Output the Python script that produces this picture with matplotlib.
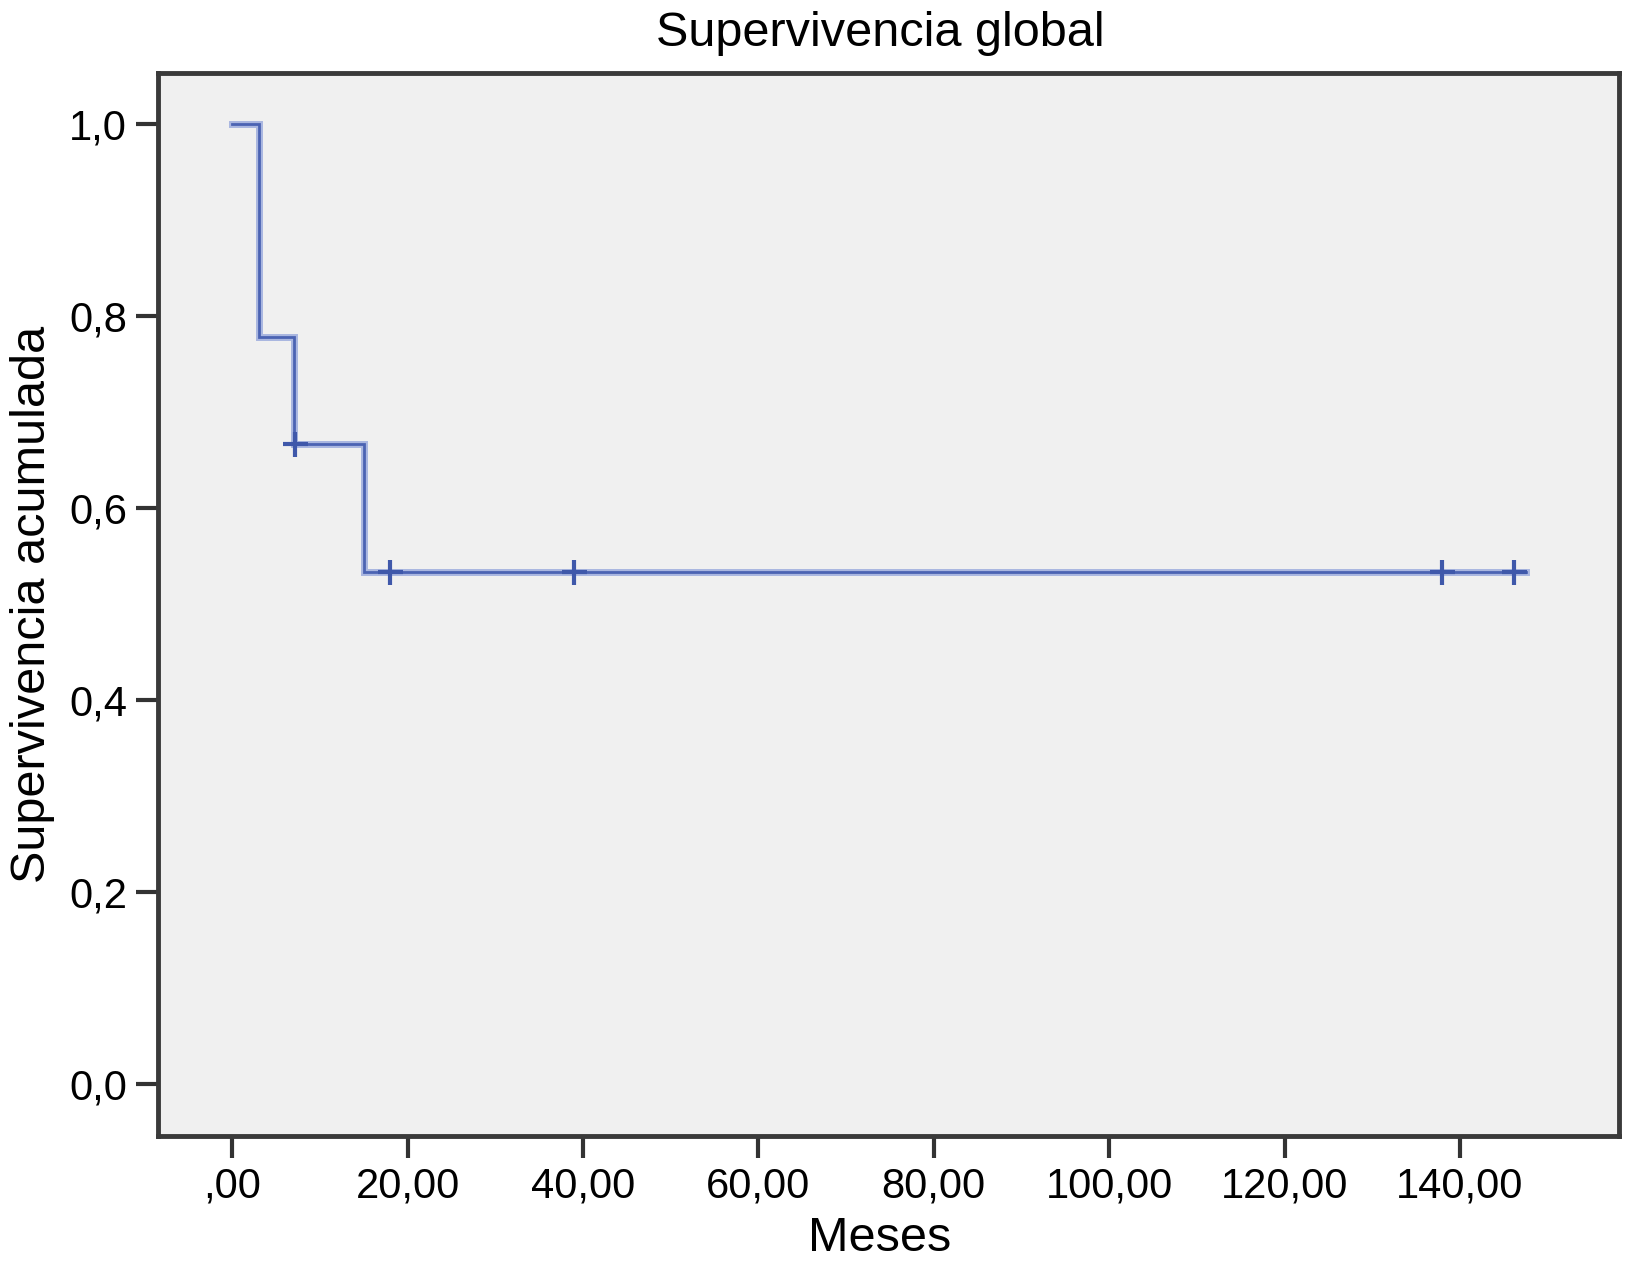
import matplotlib.pyplot as plt

plt.rcParams['font.family'] = ['Liberation Sans', 'DejaVu Sans']

# Kaplan-Meier steps (meses, supervivencia acumulada)
step_times = [0, 3, 7, 15]
step_surv = [1.0, 0.778, 0.667, 0.533]
end_time = 147.5

# censored cases
censor_times = [7.2, 18, 39, 138, 146.2]
censor_surv = [0.667, 0.533, 0.533, 0.533, 0.533]

xticks = [0, 20, 40, 60, 80, 100, 120, 140]
xlabels = [',00', '20,00', '40,00', '60,00', '80,00', '100,00', '120,00', '140,00']
yticks = [0.0, 0.2, 0.4, 0.6, 0.8, 1.0]
ylabels = ['0,0', '0,2', '0,4', '0,6', '0,8', '1,0']

fig = plt.figure(figsize=(16.26, 12.66), dpi=100)
ax = fig.add_axes([0.097, 0.103, 0.899, 0.8397])
ax.set_facecolor('#f0f0f0')

xs = step_times + [end_time]
ys = step_surv + [step_surv[-1]]
ax.step(xs, ys, where='post', color='#a9b6e0', lw=5, solid_joinstyle='miter')
ax.step(xs, ys, where='post', color='#4b63b3', lw=2, solid_joinstyle='miter')
ax.plot(censor_times, censor_surv, ls='none', marker='+', ms=18, mew=3,
        color='#3f58aa')

ax.set_xlim(-8.5, 158.2)
ax.set_ylim(-0.054, 1.054)
ax.set_xticks(xticks)
ax.set_xticklabels(xlabels)
ax.set_yticks(yticks)
ax.set_yticklabels(ylabels)
ax.tick_params(length=16, width=3, color='#333333', labelsize=30, pad=6)

for s in ax.spines.values():
    s.set_linewidth(3.5)
    s.set_color('#3a3a3a')

ax.set_title('Supervivencia global', fontsize=35, pad=19, x=0.494)
ax.set_xlabel('Meses', fontsize=35)
ax.xaxis.set_label_coords(0.494, -0.076)
ax.set_ylabel('Supervivencia acumulada', fontsize=35, labelpad=10)

fig.savefig('out.png', dpi=100)
